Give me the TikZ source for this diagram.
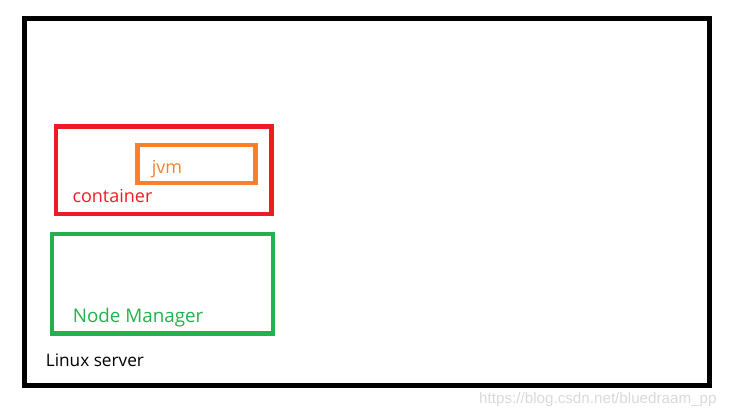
\documentclass[tikz,border=0pt]{standalone}
\usepackage{fontspec}
\setmainfont{Open Sans}
\newfontfamily\markfont{Liberation Sans}
\usepackage{xcolor}
\usetikzlibrary{positioning}
\definecolor{boxred}{HTML}{ED1C24}
\definecolor{boxorange}{HTML}{FF7F27}
\definecolor{boxgreen}{HTML}{22B14C}
\definecolor{markgray}{HTML}{D9D9D9}
\begin{document}
\begin{tikzpicture}[x=1pt, y=-1pt, box/.style={draw=#1, line width=4.5pt, inner sep=0pt}, lbl/.style={anchor=base west, text=#1, inner sep=0pt, font=\fontsize{18}{22}\selectfont}]
  \useasboundingbox (0,0) rectangle (736,418);
  \node[box=black, line width=5pt, minimum width=685pt, minimum height=367pt] (server) at (367,202) {};
  \node[box=boxred, minimum width=215.7pt, minimum height=87.3pt] (container) at (163.6,170.2) {};
  \node[box=boxorange, minimum width=117.7pt, minimum height=38.1pt] (jvm) at (196.4,163.8) {};
  \node[box=boxgreen, minimum width=221.4pt, minimum height=99.3pt] (nm) at (162.5,283.7) {};
  \node[lbl=boxorange] (jvmtext) at (151.7,173.3) {jvm};
  \node[lbl=boxred] (containertext) at (72.3,202.7) {container};
  \node[lbl=boxgreen, font=\fontsize{18.8}{22}\selectfont] (nmtext) at (72.7,322.3) {Node Manager};
  \node[lbl=black, font=\fontsize{17.2}{22}\selectfont] (servertext) at (45.7,366.7) {Linux server};
  \node[anchor=base west, inner sep=0pt, text=markgray, font=\markfont\fontsize{15.2}{17}\selectfont] (mark) at (479,403) {https://blog.csdn.net/bluedraam\_pp};
\end{tikzpicture}
\end{document}
